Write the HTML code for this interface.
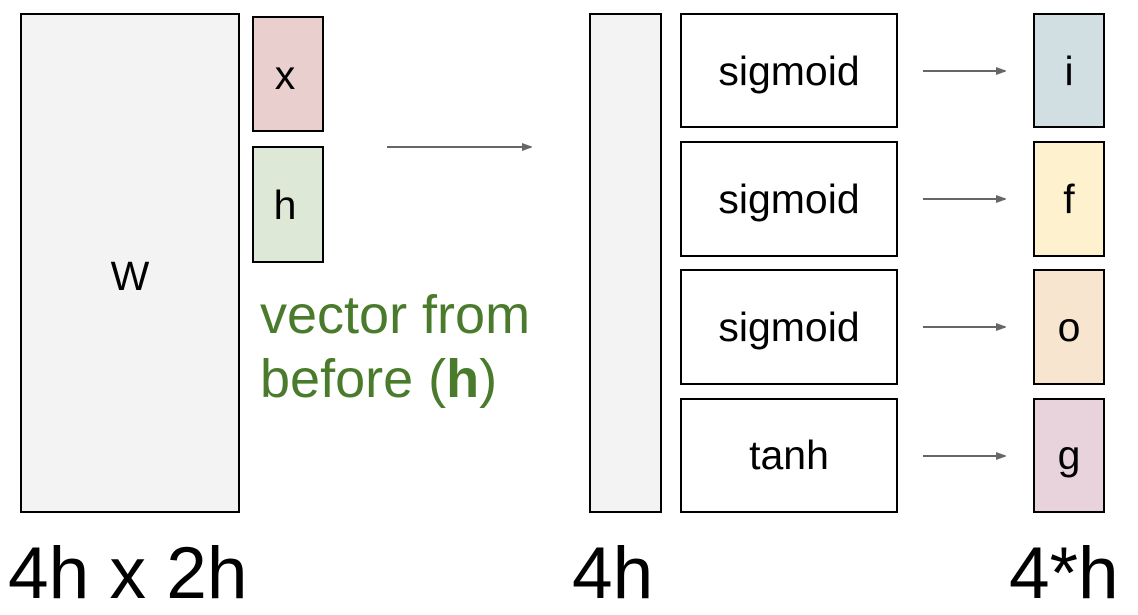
<!DOCTYPE html>
<html><head><meta charset="utf-8"><style>
body{margin:0;background:#fff;width:1138px;height:610px;overflow:hidden}
svg text{font-family:"Liberation Sans",sans-serif}
</style></head><body>
<svg width="1138" height="610" viewBox="0 0 1138 610" xmlns="http://www.w3.org/2000/svg">
<defs><marker id="a" markerWidth="10" markerHeight="8" refX="9" refY="4" orient="auto" markerUnits="userSpaceOnUse"><path d="M0,0 L11,4 L0,8 z" fill="#666"/></marker></defs>
<g stroke="#000" stroke-width="2">
<rect x="21" y="14" width="218" height="498" fill="#f3f3f3"/>
<rect x="253" y="17" width="70" height="114" fill="#eacfcf"/>
<rect x="253" y="147" width="70" height="115" fill="#dde9d6"/>
<rect x="590" y="14" width="71" height="498" fill="#f3f3f3"/>
<rect x="681" y="14" width="216" height="113" fill="#fff"/>
<rect x="681" y="142" width="216" height="114" fill="#fff"/>
<rect x="681" y="270" width="216" height="114" fill="#fff"/>
<rect x="681" y="399" width="216" height="113" fill="#fff"/>
<rect x="1034" y="14" width="70" height="113" fill="#d1dfe3"/>
<rect x="1034" y="142" width="70" height="114" fill="#fdf2cd"/>
<rect x="1034" y="270" width="70" height="114" fill="#f8e5d0"/>
<rect x="1034" y="399" width="70" height="113" fill="#e8d3dc"/>
</g>
<g stroke="#666" stroke-width="2" marker-end="url(#a)">
<line x1="387" y1="147" x2="531" y2="147"/>
<line x1="923" y1="71" x2="1005" y2="71"/>
<line x1="923" y1="199" x2="1005" y2="199"/>
<line x1="923" y1="327" x2="1005" y2="327"/>
<line x1="923" y1="456" x2="1005" y2="456"/>
</g>
<g font-size="41" text-anchor="middle" fill="#000">
<text x="130" y="290">W</text>
<text x="285" y="89">x</text>
<text x="285" y="219">h</text>
<text x="789" y="85">sigmoid</text>
<text x="789" y="213">sigmoid</text>
<text x="789" y="341">sigmoid</text>
<text x="789" y="469">tanh</text>
<text x="1069" y="85">i</text>
<text x="1069" y="213">f</text>
<text x="1069" y="341">o</text>
<text x="1069" y="469">g</text>
</g>
<g font-size="54" fill="#4a7b2c">
<text x="260" y="333">vector from</text>
<text x="260" y="397">before (<tspan font-weight="bold">h</tspan>)</text>
</g>
<g font-size="73" fill="#000">
<text x="8" y="598">4h x 2h</text>
<text x="572" y="598">4h</text>
<text x="1009" y="598">4*h</text>
</g>
</svg>
</body></html>
